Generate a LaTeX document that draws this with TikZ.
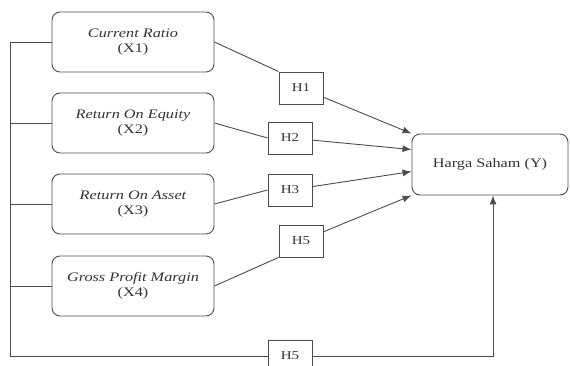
\documentclass[tikz,border=0pt]{standalone}
\usepackage{fontspec}
\setmainfont{Liberation Serif}[FakeStretch=1.25]
\usepackage{xcolor}
\usepackage{tikz}
\usetikzlibrary{arrows.meta}

\tikzset{
	varbox/.style={draw=black!70, line width=0.9pt, rounded corners=8pt, minimum width=162pt, minimum height=60pt, align=center, text=black!80, font=\fontsize{13}{15}\selectfont},
	hypbox/.style={draw=black!70, line width=0.9pt, minimum width=44pt, minimum height=32pt, text=black!80, font=\fontsize{12}{14}\selectfont},
	link/.style={draw=black!70, line width=0.9pt},
	arr/.style={link, -{Latex[length=9pt,width=7pt]}}
}

\begin{document}
\begin{tikzpicture}[x=1pt,y=-1pt]
				\useasboundingbox (0,0) rectangle (570,366);
	
				\node[varbox] (X1) at (133,42) {\itshape Current Ratio\\(X1)};
				\node[varbox] (X2) at (133,123) {\itshape Return On Equity\\(X2)};
				\node[varbox] (X3) at (133,204) {\itshape Return On Asset\\(X3)};
				\node[varbox] (X4) at (133,286) {\itshape Gross Profit Margin\\(X4)};
				\node[varbox, minimum width=156pt, minimum height=61pt] (Y) at (490,164.5) {Harga Saham (Y)};
	
				\node[hypbox] (H1) at (301,88) {H1};
				\node[hypbox] (H2) at (290,138) {H2};
				\node[hypbox] (H3) at (290,190) {H3};
				\node[hypbox] (H5a) at (301,241) {H5};
				\node[hypbox] (H5b) at (290,356) {H5};
	
				\coordinate (corner) at (10,356);
	
				\draw[link] (X1.west) -| (corner) -- (H5b);
				\draw[link] (X2.west) -- (X2.west -| corner);
				\draw[link] (X3.west) -- (X3.west -| corner);
				\draw[link] (X4.west) -- (X4.west -| corner);
	
				\draw[link] (X1.east) -- (H1.north west);
				\draw[link] (X2.east) -- (H2.west);
				\draw[link] (X3.east) -- (H3.west);
				\draw[link] (X4.east) -- (H5a.south west);
	
				\draw[arr] (H1) -- (Y.north west);
				\draw[arr] (H2) -- ([yshift=-16pt]Y.north west);
				\draw[arr] (H3) -- ([yshift=-38pt]Y.north west);
				\draw[arr] (H5a) -- (Y.south west);
				\draw[arr] (H5b) -| ([xshift=3pt]Y.south);
			\end{tikzpicture}
\end{document}
